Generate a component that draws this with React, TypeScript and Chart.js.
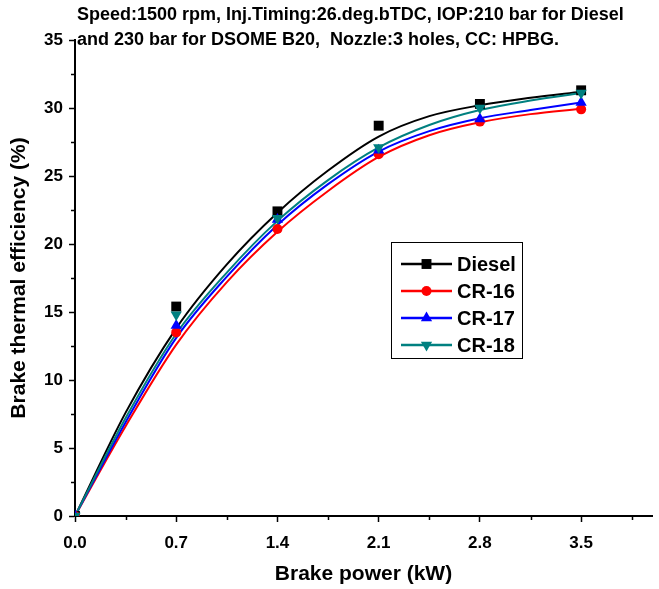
import React, { useEffect, useRef } from 'react';
import { Chart, registerables } from 'chart.js';

Chart.register(...registerables);

const seriesNames = ['Diesel', 'CR-16', 'CR-17', 'CR-18'];
const seriesColors = ['#000000', '#FF0000', '#0000FF', '#008080'];
const pointStyles = ['rect', 'circle', 'triangle', 'triangle'];
const pointRotations = [0, 0, 0, 180];
const pointRadii = [7, 5, 6.5, 6.5];

const measuredPower = [0, 0.7, 1.4, 2.1, 2.8, 3.5];
const dieselBTE = [0, 15.4, 22.4, 28.7, 30.3, 31.3];
const cr16BTE = [0, 13.5, 21.1, 26.6, 29.0, 29.9];
const cr17BTE = [0, 14.0, 21.8, 26.9, 29.2, 30.4];
const cr18BTE = [0, 14.8, 21.9, 27.1, 30.0, 31.1];

const fitPower = [0, 0.35, 0.7, 1.05, 1.4, 1.75, 2.1, 2.45, 2.8, 3.15, 3.5];
const dieselFit = [0, 7.6, 13.8, 18.5, 22.3, 25.4, 27.9, 29.4, 30.2, 30.75, 31.2];
const cr16Fit = [0, 6.6, 12.6, 17.2, 20.9, 23.9, 26.4, 28.0, 28.95, 29.55, 29.95];
const cr17Fit = [0, 6.9, 13.1, 17.6, 21.4, 24.4, 26.8, 28.3, 29.25, 29.85, 30.4];
const cr18Fit = [0, 7.2, 13.4, 17.9, 21.7, 24.7, 27.1, 28.75, 29.85, 30.55, 31.1];

const xTickValues = [0, 0.7, 1.4, 2.1, 2.8, 3.5];
const xMinorTicks = [0.35, 1.05, 1.75, 2.45, 3.15, 3.85];
const yTickValues = [0, 5, 10, 15, 20, 25, 30, 35];
const yMinorTicks = [2.5, 7.5, 12.5, 17.5, 22.5, 27.5, 32.5];

const titleLines = [
  'Speed:1500 rpm, Inj.Timing:26.deg.bTDC, IOP:210 bar for Diesel',
  'and 230 bar for DSOME B20,  Nozzle:3 holes, CC: HPBG.',
];
const xAxisTitle = 'Brake power (kW)';
const yAxisTitle = 'Brake thermal efficiency (%)';

const FONT = "'Liberation Sans', Arial, sans-serif";

const measured = [dieselBTE, cr16BTE, cr17BTE, cr18BTE];
const fits = [dieselFit, cr16Fit, cr17Fit, cr18Fit];

function drawMarker(ctx: CanvasRenderingContext2D, style: string, r: number, rot: number, x: number, y: number) {
  ctx.beginPath();
  if (style === 'rect') {
    const s = Math.SQRT1_2 * r;
    ctx.rect(x - s, y - s, 2 * s, 2 * s);
  } else if (style === 'circle') {
    ctx.arc(x, y, r, 0, Math.PI * 2);
  } else {
    const rad = (rot * Math.PI) / 180;
    for (let k = 0; k < 3; k++) {
      const a = rad + (k * 2 * Math.PI) / 3;
      const px = x + Math.sin(a) * r;
      const py = y - Math.cos(a) * r;
      if (k === 0) ctx.moveTo(px, py);
      else ctx.lineTo(px, py);
    }
    ctx.closePath();
  }
  ctx.fill();
}

const decorPlugin = {
  id: 'decor',
  afterDraw(chart: any) {
    const ctx = chart.ctx;
    const xs = chart.scales.x;
    const ys = chart.scales.y;
    const area = chart.chartArea;
    ctx.save();
    // minor ticks
    ctx.strokeStyle = '#000';
    ctx.lineWidth = 1.5;
    ctx.beginPath();
    xMinorTicks.forEach((v) => {
      const px = Math.round(xs.getPixelForValue(v)) + 0.5;
      ctx.moveTo(px, area.bottom);
      ctx.lineTo(px, area.bottom + 4);
    });
    yMinorTicks.forEach((v) => {
      const py = Math.round(ys.getPixelForValue(v)) + 0.5;
      ctx.moveTo(area.left, py);
      ctx.lineTo(area.left - 4, py);
    });
    ctx.stroke();

    // title lines
    ctx.fillStyle = '#000';
    ctx.font = `bold 18px ${FONT}`;
    ctx.textBaseline = 'middle';
    ctx.textAlign = 'left';
    ctx.fillText(titleLines[0], 77, 15);
    ctx.fillText(titleLines[1], 77, 40);

    // legend
    const bx = 391.5, by = 242.5, bw = 131, bh = 116;
    ctx.fillStyle = '#fff';
    ctx.fillRect(bx, by, bw, bh);
    ctx.strokeStyle = '#000';
    ctx.lineWidth = 1;
    ctx.strokeRect(bx, by, bw, bh);
    seriesNames.forEach((name, i) => {
      const y = 264 + i * 27;
      ctx.strokeStyle = seriesColors[i];
      ctx.lineWidth = 2.5;
      ctx.beginPath();
      ctx.moveTo(401, y);
      ctx.lineTo(452, y);
      ctx.stroke();
      ctx.fillStyle = seriesColors[i];
      drawMarker(ctx, pointStyles[i], pointRadii[i], pointRotations[i], 426.5, y);
      ctx.fillStyle = '#000';
      ctx.font = `bold 20px ${FONT}`;
      ctx.textBaseline = 'middle';
      ctx.fillText(name, 457, y + 1);
    });
    ctx.restore();
  },
};

export default function App() {
  const ref = useRef<HTMLCanvasElement | null>(null);

  useEffect(() => {
    document.body.style.margin = '0';
    const canvas = ref.current;
    if (!canvas) return;

    const datasets: any[] = [];
    fits.forEach((vals, i) => {
      datasets.push({
        label: seriesNames[i] + ' fit',
        data: fitPower.map((x, k) => ({ x, y: vals[k] })),
        borderColor: seriesColors[i],
        backgroundColor: seriesColors[i],
        borderWidth: 2,
        pointRadius: 0,
        showLine: true,
        cubicInterpolationMode: 'monotone',
        order: 20 - i,
      });
    });
    measured.forEach((vals, i) => {
      datasets.push({
        label: seriesNames[i],
        data: measuredPower.map((x, k) => ({ x, y: vals[k] })),
        borderColor: seriesColors[i],
        backgroundColor: seriesColors[i],
        pointStyle: pointStyles[i],
        pointRotation: pointRotations[i],
        pointRadius: pointRadii[i],
        pointBorderWidth: 0,
        showLine: false,
        order: 10 - i,
      });
    });

    const chart = new Chart(canvas, {
      type: 'scatter',
      data: { datasets },
      plugins: [decorPlugin],
      options: {
        animation: false,
        responsive: false,
        maintainAspectRatio: false,
        layout: { padding: { top: 40, right: 0, left: 0, bottom: 0 } },
        plugins: {
          legend: { display: false },
          tooltip: { enabled: false },
          title: { display: false },
        },
        scales: {
          x: {
            type: 'linear',
            min: 0,
            max: 3.99,
            afterBuildTicks: (scale: any) => {
              scale.ticks = xTickValues.map((v) => ({ value: v }));
            },
            afterFit: (scale: any) => {
              scale.height = 73;
            },
            grid: {
              display: true,
              drawOnChartArea: false,
              drawTicks: true,
              tickLength: 6,
              tickWidth: 1.5,
              tickColor: '#000',
              color: '#000',
            },
            border: { display: true, color: '#000', width: 2 },
            ticks: {
              color: '#000',
              padding: 11,
              maxRotation: 0,
              autoSkip: false,
              font: { family: FONT, size: 17, weight: 'bold' },
              callback: (v: any) => Number(v).toFixed(1),
            },
            title: {
              display: true,
              text: xAxisTitle,
              color: '#000',
              font: { family: FONT, size: 21, weight: 'bold' },
              padding: { top: 0, bottom: 2 },
            },
          },
          y: {
            type: 'linear',
            min: 0,
            max: 35,
            afterBuildTicks: (scale: any) => {
              scale.ticks = yTickValues.map((v) => ({ value: v }));
            },
            afterFit: (scale: any) => {
              scale.width = 75;
            },
            grid: {
              display: true,
              drawOnChartArea: false,
              drawTicks: true,
              tickLength: 6,
              tickWidth: 1.5,
              tickColor: '#000',
              color: '#000',
            },
            border: { display: true, color: '#000', width: 2 },
            ticks: {
              color: '#000',
              padding: 6,
              autoSkip: false,
              font: { family: FONT, size: 17, weight: 'bold' },
              callback: (v: any) => String(v),
            },
            title: {
              display: true,
              text: yAxisTitle,
              color: '#000',
              font: { family: FONT, size: 21, weight: 'bold' },
              padding: { top: 7, bottom: 0 },
            },
          },
        },
      } as any,
    });

    return () => chart.destroy();
  }, []);

  return (
    <div style={{ width: 659, height: 589 }}>
      <canvas ref={ref} width={659} height={589} style={{ display: 'block' }} />
    </div>
  );
}
